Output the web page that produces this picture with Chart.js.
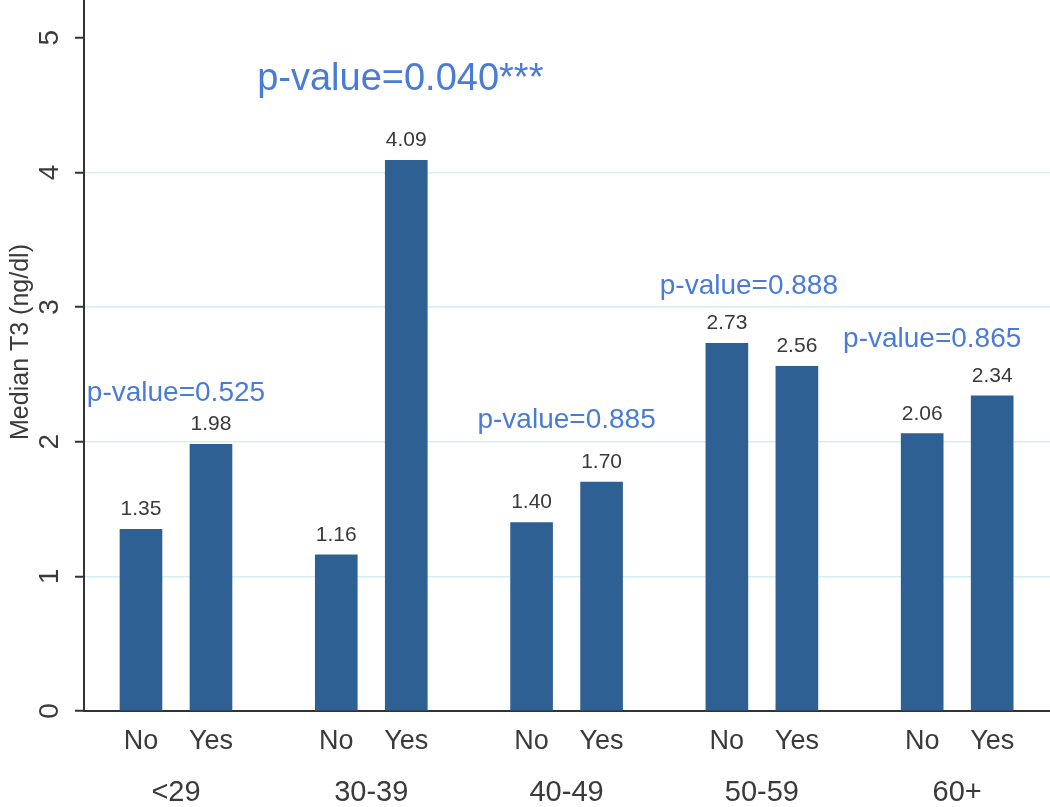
<!DOCTYPE html>
<html>
<head>
<meta charset="utf-8">
<script src="https://cdn.jsdelivr.net/npm/chart.js@4.4.0/dist/chart.umd.min.js"></script>
<style>
html, body { margin: 0; padding: 0; background: #fff; }
#wrap { width: 1050px; height: 807px; }
</style>
</head>
<body>
<div id="wrap"><canvas id="t3Chart"></canvas></div>
<script>
var ageGroups = ["<29", "30-39", "40-49", "50-59", "60+"];
var answers = ["No", "Yes"];
var medianNo = [1.35, 1.16, 1.40, 2.73, 2.06];
var medianYes = [1.98, 4.09, 1.70, 2.56, 2.34];
var pValues = ["p-value=0.525", "p-value=0.040***", "p-value=0.885", "p-value=0.888", "p-value=0.865"];
var yTicks = [0, 1, 2, 3, 4, 5];

// layout
var FONT = "'Liberation Sans', Arial, sans-serif";
var groupGap = 2.79;
function barX(g, s) { return g * groupGap + s; }
// where each p-value text sits: pixel shift from group centre, baseline as a y value
var pLabelPos = [
    { dx: 0, y: 2.30, size: 28 },
    { dx: 29, y: 4.61, size: 38 },
    { dx: 0, y: 2.10, size: 28 },
    { dx: -13, y: 3.10, size: 28 },
    { dx: -25, y: 2.70, size: 28 }
];

var points = [];
var barTicks = [];
var groupTicks = [];
ageGroups.forEach(function (name, g) {
    points.push({ x: barX(g, 0), y: medianNo[g] });
    points.push({ x: barX(g, 1), y: medianYes[g] });
    barTicks.push(barX(g, 0), barX(g, 1));
    groupTicks.push(barX(g, 0.5));
});

var labelsPlugin = {
    id: 'labels',
    afterDatasetsDraw: function (chart) {
        var ctx = chart.ctx;
        var x = chart.scales.x, y = chart.scales.y;
        ctx.save();
        // values on top of bars
        ctx.fillStyle = '#3a3a3a';
        ctx.font = '21px ' + FONT;
        ctx.textAlign = 'center';
        ctx.textBaseline = 'alphabetic';
        points.forEach(function (p) {
            ctx.fillText(p.y.toFixed(2), x.getPixelForValue(p.x), y.getPixelForValue(p.y) - 14);
        });
        // p-values
        ctx.fillStyle = '#4a7bd6';
        pValues.forEach(function (txt, g) {
            var pos = pLabelPos[g];
            ctx.font = pos.size + 'px ' + FONT;
            ctx.fillText(txt, x.getPixelForValue(groupTicks[g]) + pos.dx, y.getPixelForValue(pos.y));
        });
        ctx.restore();
    },
    afterDraw: function (chart) {
        var ctx = chart.ctx;
        var y = chart.scales.y;
        ctx.save();
        ctx.fillStyle = '#3a3a3a';
        ctx.textAlign = 'center';
        ctx.textBaseline = 'middle';
        ctx.font = '28px ' + FONT;
        yTicks.forEach(function (v) {
            ctx.save();
            ctx.translate(50, y.getPixelForValue(v));
            ctx.rotate(-Math.PI / 2);
            ctx.fillText(String(v), 0, 0);
            ctx.restore();
        });
        ctx.font = '25px ' + FONT;
        ctx.translate(21, 342);
        ctx.rotate(-Math.PI / 2);
        ctx.fillText('Median T3 (ng/dl)', 0, 0);
        ctx.restore();
    }
};

new Chart(document.getElementById('t3Chart'), {
    type: 'bar',
    data: {
        datasets: [{
            data: points,
            backgroundColor: '#2f6094',
            barThickness: 42
        }]
    },
    plugins: [labelsPlugin],
    options: {
        responsive: true,
        maintainAspectRatio: false,
        animation: false,
        layout: { padding: 0 },
        plugins: {
            legend: { display: false },
            tooltip: { enabled: false }
        },
        scales: {
            x: {
                type: 'linear',
                position: 'bottom',
                min: -0.814,
                max: 12.986,
                offset: false,
                grid: { display: false, offset: false, drawTicks: false },
                border: { display: true, color: '#333', width: 2 },
                afterBuildTicks: function (s) {
                    s.ticks = barTicks.map(function (v) { return { value: v }; });
                },
                afterFit: function (s) { s.height = 58; },
                ticks: {
                    padding: 14,
                    color: '#3a3a3a',
                    font: { family: FONT, size: 27 },
                    maxRotation: 0,
                    autoSkip: false,
                    callback: function (v, i) { return answers[i % 2]; }
                }
            },
            x2: {
                type: 'linear',
                position: 'bottom',
                min: -0.814,
                max: 12.986,
                offset: false,
                grid: { display: false, drawTicks: false },
                border: { display: false },
                afterBuildTicks: function (s) {
                    s.ticks = groupTicks.map(function (v) { return { value: v }; });
                },
                afterFit: function (s) { s.height = 38; },
                ticks: {
                    padding: 7,
                    color: '#3a3a3a',
                    font: { family: FONT, size: 29 },
                    maxRotation: 0,
                    autoSkip: false,
                    callback: function (v, i) { return ageGroups[i]; }
                }
            },
            y: {
                min: 0,
                max: 5.28,
                afterBuildTicks: function (s) {
                    s.ticks = yTicks.map(function (v) { return { value: v }; });
                },
                afterFit: function (s) { s.width = 84; },
                border: { display: true, color: '#333', width: 2 },
                grid: {
                    color: function (c) {
                        return (c.tick && c.tick.value > 0 && c.tick.value < 5) ? '#d6eef3' : 'rgba(0,0,0,0)';
                    },
                    lineWidth: 1.5,
                    drawTicks: true,
                    tickLength: 9,
                    tickColor: '#333',
                    tickWidth: 2
                },
                ticks: { display: false }
            }
        }
    }
});
</script>
</body>
</html>
